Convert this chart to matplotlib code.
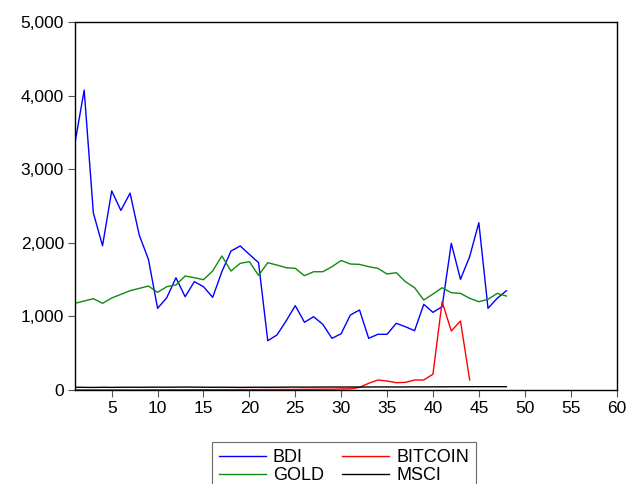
import matplotlib.pyplot as plt
from matplotlib.ticker import FuncFormatter
import numpy as np

plt.rcParams['font.family'] = ['Liberation Sans', 'DejaVu Sans']

# series values (index 1..48)
bdi = [3360, 4075, 2405, 1960, 2705, 2440, 2675, 2105, 1775, 1110,
       1255, 1525, 1268, 1472, 1404, 1259, 1607, 1889, 1957, 1843,
       1730, 670, 747, 938, 1146, 920, 996, 892, 702, 765,
       1019, 1087, 702, 757, 757, 906, 860, 806, 1164, 1055,
       1132, 1993, 1504, 1812, 2273, 1110, 1246, 1349]
gold = [1178, 1209, 1241, 1178, 1250, 1300, 1349, 1381, 1413, 1327,
        1404, 1427, 1549, 1526, 1499, 1617, 1821, 1617, 1721, 1744,
        1558, 1730, 1698, 1662, 1653, 1553, 1607, 1607, 1676, 1760,
        1712, 1707, 1676, 1653, 1576, 1594, 1472, 1390, 1223, 1304,
        1390, 1322, 1313, 1246, 1200, 1232, 1313, 1277]
bitcoin = [1, 1, 1, 1, 1, 1, 1, 1, 2, 2,
           3, 3, 3, 4, 4, 4, 5, 5, 6, 6,
           6, 7, 7, 8, 8, 9, 10, 11, 12, 14,
           16, 36, 91, 136, 122, 100, 104, 136, 136, 215,
           1200, 802, 938, 136]
msci = [38, 36, 35, 37, 36, 37, 38, 37, 38, 39,
        38, 39, 40, 39, 38, 37, 38, 37, 36, 37,
        38, 37, 38, 39, 40, 39, 40, 40, 41, 40,
        41, 40, 41, 42, 42, 41, 42, 43, 42, 43,
        43, 44, 44, 45, 45, 45, 45, 45]

fig = plt.figure(figsize=(6.34, 4.84), dpi=100)
ax = fig.add_axes([0.1183, 0.1942, 0.8541, 0.7603])

x_bdi = np.arange(1, len(bdi) + 1)
x_btc = np.arange(1, len(bitcoin) + 1)

l_bdi, = ax.plot(x_bdi, bdi, color='#0000ff', lw=1.0, label='BDI')
l_gold, = ax.plot(x_bdi, gold, color='#108a10', lw=1.0, label='GOLD')
l_btc, = ax.plot(x_btc, bitcoin, color='#ff0000', lw=1.0, label='BITCOIN')
l_msci, = ax.plot(x_bdi, msci, color='#000000', lw=1.0, label='MSCI')

ax.set_xlim(1, 60)
ax.set_ylim(0, 5000)
ax.set_xticks(np.arange(5, 61, 5))
ax.set_yticks(np.arange(0, 5001, 1000))
ax.yaxis.set_major_formatter(FuncFormatter(lambda v, p: f'{int(v):,}'))
ax.tick_params(direction='out', length=5, width=0.8, color='#555555',
               labelsize=12.5, pad=3, top=False, right=False)
for s in ax.spines.values():
    s.set_linewidth(1.0)
    s.set_color('black')

leg = fig.legend(handles=[l_bdi, l_gold, l_btc, l_msci], ncol=2,
                 loc='upper left', bbox_to_anchor=(211.5 / 634, 1 - 442 / 484),
                 borderaxespad=0, fontsize=13, frameon=True, fancybox=False,
                 edgecolor='#444444', handlelength=2.6, handletextpad=0.4,
                 columnspacing=1.0, labelspacing=0.05, borderpad=0.4)
leg.get_frame().set_linewidth(0.8)

fig.savefig('out.png', dpi=100)
